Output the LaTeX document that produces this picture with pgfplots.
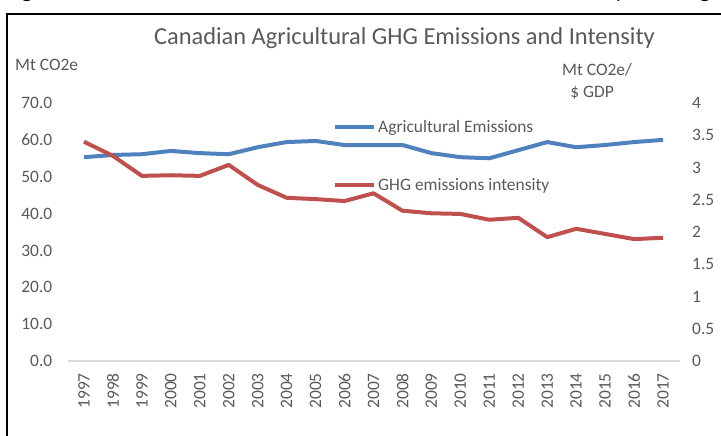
\documentclass[border=0pt]{standalone}
\usepackage{fontspec}
\setmainfont{Carlito}
\usepackage{pgfplots}
\pgfplotsset{compat=1.18}
\definecolor{blueline}{HTML}{4F81BD}
\definecolor{redline}{HTML}{C0504D}
\definecolor{txt}{HTML}{595959}
\definecolor{axgray}{HTML}{D9D9D9}
\begin{document}
\begin{tikzpicture}
\useasboundingbox (0,0) rectangle (721bp,436bp);
% frame of the cropped figure
\draw[line width=2bp] (7bp,-10bp) -- (7bp,422bp) -- (730bp,422bp);
% descenders of the cut-off caption line
\node[anchor=base, font=\fontsize{24}{24}\selectfont, inner sep=0pt] at (27bp,438bp) {g};
\node[anchor=base, font=\fontsize{24}{24}\selectfont, inner sep=0pt] at (620bp,438bp) {y};
\node[anchor=base, font=\fontsize{24}{24}\selectfont, inner sep=0pt] at (705bp,438bp) {g};
% title and axis titles
\node[font=\fontsize{24.5}{24.5}\selectfont, text=txt] at (404.5bp,398bp) {Canadian Agricultural GHG Emissions and Intensity};
\node[anchor=west, font=\fontsize{17.5}{17.5}\selectfont, text=txt, inner sep=0pt] at (15bp,371bp) {Mt CO2e};
\node[font=\fontsize{17.5}{17.5}\selectfont, text=txt, inner sep=0pt] at (597bp,366bp) {Mt CO2e/};
\node[font=\fontsize{17.5}{17.5}\selectfont, text=txt, inner sep=0pt] at (592bp,343bp) {\$ GDP};

\begin{axis}[
  at={(69.5bp,75bp)}, anchor=south west,
  scale only axis, width=608bp, height=258bp,
  xmin=1996.5, xmax=2017.5, ymin=0, ymax=70,
  xtick={1997,...,2017}, ytick={0,10,20,30,40,50,60,70},
  axis x line*=bottom, axis y line*=left,
  y axis line style={draw=none},
  x axis line style={draw=axgray, line width=1.5bp, -, shorten <=-1.5bp, shorten >=-2.5bp},
  major tick length=0pt,
  tick label style={font=\fontsize{17.5}{17.5}\selectfont, text=txt, inner sep=0pt},
  /pgf/number format/assume math mode=true,
  xticklabel style={rotate=90, anchor=east, /pgf/number format/1000 sep={}},
  xticklabel shift=12bp,
  yticklabel style={anchor=east, /pgf/number format/.cd, fixed, fixed zerofill, precision=1},
  yticklabel shift=17bp,
  clip=false,
]
\addplot[blueline, line width=4bp, line join=round] coordinates {
(1997,55.3) (1998,55.9) (1999,56.1) (2000,57.0) (2001,56.4) (2002,56.1)
(2003,58.0) (2004,59.4) (2005,59.7) (2006,58.6) (2007,58.6) (2008,58.6)
(2009,56.4) (2010,55.3) (2011,55.0) (2012,57.2) (2013,59.4) (2014,58.0)
(2015,58.6) (2016,59.4) (2017,60.0)
};
\end{axis}

\begin{axis}[
  at={(69.5bp,75bp)}, anchor=south west,
  scale only axis, width=608bp, height=258bp,
  xmin=1996.5, xmax=2017.5, ymin=0, ymax=4,
  axis x line=none, axis y line*=right,
  y axis line style={draw=none},
  ytick={0,0.5,1,1.5,2,2.5,3,3.5,4},
  major tick length=0pt,
  tick label style={font=\fontsize{17.5}{17.5}\selectfont, text=txt, inner sep=0pt},
  /pgf/number format/assume math mode=true,
  yticklabel style={anchor=west},
  yticklabel shift=14.5bp,
  clip=false,
  legend cell align=left,
  legend style={draw=none, fill=none, at={(axis description cs:0.4334,0.94)}, anchor=north west,
    font=\fontsize{17.5}{17.5}\selectfont, text=txt, row sep=40bp, inner sep=0pt,
    /tikz/every even column/.append style={column sep=4bp}},
  legend image code/.code={\draw[#1] (0bp,0bp) -- (39bp,0bp);},
]
\addlegendimage{blueline, line width=4bp}
\addlegendentry{Agricultural Emissions}
\addplot[redline, line width=4bp, line join=round] coordinates {
(1997,3.40) (1998,3.18) (1999,2.87) (2000,2.88) (2001,2.87) (2002,3.04)
(2003,2.73) (2004,2.53) (2005,2.51) (2006,2.48) (2007,2.60) (2008,2.33)
(2009,2.29) (2010,2.28) (2011,2.19) (2012,2.22) (2013,1.92) (2014,2.05)
(2015,1.97) (2016,1.89) (2017,1.91)
};
\addlegendentry{GHG emissions intensity}
\end{axis}
\end{tikzpicture}
\end{document}
